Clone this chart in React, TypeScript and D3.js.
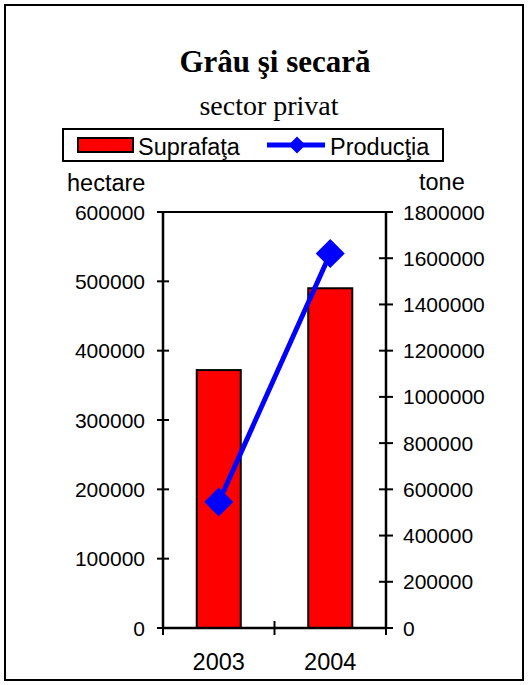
import React from "react";
import * as d3 from "d3";

const categories = ["2003", "2004"];
const suprafata = [372000, 490000];
const productia = [545000, 1620000];
const leftTicks = [0, 100000, 200000, 300000, 400000, 500000, 600000];
const rightTicks = [0, 200000, 400000, 600000, 800000, 1000000, 1200000, 1400000, 1600000, 1800000];

const W = 529;
const H = 685;
const SANS = "'Liberation Sans', Arial, sans-serif";
const SERIF = "'Liberation Serif', 'Times New Roman', serif";

export default function App() {
  const plot = { left: 163, right: 386, top: 212, bottom: 628 };
  const x = d3.scaleBand<string>().domain(categories).range([plot.left, plot.right]).padding(0);
  const yL = d3.scaleLinear().domain([0, 600000]).range([plot.bottom, plot.top]);
  const yR = d3.scaleLinear().domain([0, 1800000]).range([plot.bottom, plot.top]);
  const bw = x.bandwidth() * 0.395;
  const cx = (c: string) => (x(c) as number) + x.bandwidth() / 2;
  const line = d3
    .line<number>()
    .x((_, i) => cx(categories[i]))
    .y((d) => yR(d));
  const diamond = (px: number, py: number, r: number) =>
    `M${px},${py - r}L${px + r},${py}L${px},${py + r}L${px - r},${py}Z`;

  return (
    <svg width={W} height={H} style={{ position: "absolute", left: 0, top: 0, background: "#fff" }}>
      <rect x={5} y={5} width={518} height={675} fill="#fff" stroke="#000" strokeWidth={2} />
      <text x={275} y={72} textAnchor="middle" fontFamily={SERIF} fontWeight="bold" fontSize={31}>
        Grâu şi secară
      </text>
      <text x={269} y={115} textAnchor="middle" fontFamily={SERIF} fontSize={28}>
        sector privat
      </text>

      {/* legend */}
      <rect x={63} y={129} width={380} height={32} fill="#fff" stroke="#000" strokeWidth={2} />
      <rect x={78} y={138} width={55} height={14} fill="#FF0000" stroke="#000" strokeWidth={2} />
      <text x={138} y={155} fontFamily={SANS} fontSize={23.5}>Suprafaţa</text>
      <line x1={267} x2={325} y1={145} y2={145} stroke="#0000FF" strokeWidth={5} />
      <path d={diamond(297, 145, 8.5)} fill="#0000FF" />
      <text x={330} y={155} fontFamily={SANS} fontSize={23.5}>Producţia</text>

      <text x={67} y={191} fontFamily={SANS} fontSize={23.5}>hectare</text>
      <text x={419} y={190} fontFamily={SANS} fontSize={23.5}>tone</text>

      {/* bars */}
      {categories.map((c, i) => (
        <rect
          key={c}
          x={cx(c) - bw / 2}
          y={yL(suprafata[i])}
          width={bw}
          height={yL(0) - yL(suprafata[i])}
          fill="#FF0000"
          stroke="#000"
          strokeWidth={2}
        />
      ))}

      {/* plot frame lines */}
      <line x1={plot.left} x2={plot.right} y1={plot.top} y2={plot.top} stroke="#000" strokeWidth={2} />
      <line x1={plot.left} x2={plot.left} y1={plot.top} y2={plot.bottom} stroke="#000" strokeWidth={2.5} />
      <line x1={plot.right} x2={plot.right} y1={plot.top} y2={plot.bottom} stroke="#000" strokeWidth={2.5} />
      <line x1={plot.left} x2={plot.right} y1={plot.bottom} y2={plot.bottom} stroke="#000" strokeWidth={2.5} />

      {/* left axis ticks */}
      {leftTicks.map((t) => (
        <g key={"l" + t}>
          <line x1={plot.left - 6} x2={plot.left + 6} y1={yL(t)} y2={yL(t)} stroke="#000" strokeWidth={2} />
          <text x={145} y={yL(t)} dy="0.36em" textAnchor="end" fontFamily={SANS} fontSize={21}>
            {t}
          </text>
        </g>
      ))}
      {/* right axis ticks */}
      {rightTicks.map((t) => (
        <g key={"r" + t}>
          <line x1={plot.right - 7} x2={plot.right + 7} y1={yR(t)} y2={yR(t)} stroke="#000" strokeWidth={2} />
          <text x={403} y={yR(t)} dy="0.36em" textAnchor="start" fontFamily={SANS} fontSize={21}>
            {t}
          </text>
        </g>
      ))}
      {/* category ticks */}
      {[plot.left, plot.left + x.bandwidth(), plot.right].map((px, i) => (
        <line key={"c" + i} x1={px} x2={px} y1={plot.bottom - 7} y2={plot.bottom + 7} stroke="#000" strokeWidth={2} />
      ))}
      {categories.map((c) => (
        <text key={"t" + c} x={cx(c)} y={670} textAnchor="middle" fontFamily={SANS} fontSize={23.5}>
          {c}
        </text>
      ))}

      {/* line series */}
      <path d={line(productia) || ""} fill="none" stroke="#0000FF" strokeWidth={5} />
      {productia.map((v, i) => (
        <path key={"m" + i} d={diamond(cx(categories[i]), yR(v), 14.5)} fill="#0000FF" />
      ))}
    </svg>
  );
}
